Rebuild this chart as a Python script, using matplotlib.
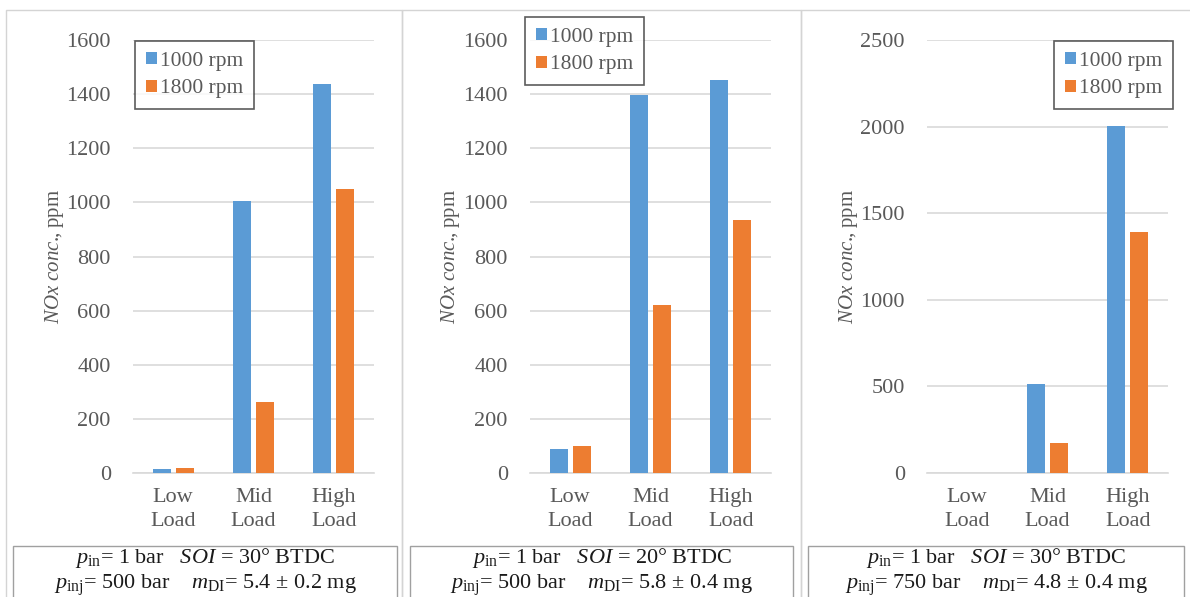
import matplotlib
matplotlib.use("Agg")
import numpy as np
import matplotlib.pyplot as plt
from matplotlib.patches import Rectangle

plt.rcParams['font.family'] = ['Liberation Serif', 'DejaVu Serif']
plt.rcParams['mathtext.fontset'] = 'custom'
plt.rcParams['mathtext.rm'] = 'Liberation Serif'
plt.rcParams['mathtext.it'] = 'Liberation Serif:italic'

categories = ['Low\nLoad', 'Mid\nLoad', 'High\nLoad']
series_names = ['1000 rpm', '1800 rpm']

nox_a_1000 = [15, 1005, 1437]
nox_a_1800 = [20, 262, 1050]
nox_b_1000 = [88, 1395, 1452]
nox_b_1800 = [100, 621, 934]
nox_c_1000 = [0, 513, 2005]
nox_c_1800 = [0, 172, 1390]

ylims = [1600, 1600, 2500]
ysteps = [200, 200, 500]
captions = [
    (r'$p_{\mathrm{in}}$= 1 bar   $SOI$ = 30° BTDC',
     r'$p_{\mathrm{inj}}$= 500 bar    $m_{\mathrm{DI}}$= 5.4 ± 0.2 mg'),
    (r'$p_{\mathrm{in}}$= 1 bar   $SOI$ = 20° BTDC',
     r'$p_{\mathrm{inj}}$= 500 bar    $m_{\mathrm{DI}}$= 5.8 ± 0.4 mg'),
    (r'$p_{\mathrm{in}}$= 1 bar   $SOI$ = 30° BTDC',
     r'$p_{\mathrm{inj}}$= 750 bar    $m_{\mathrm{DI}}$= 4.8 ± 0.4 mg'),
]

BLUE = '#5B9BD5'
ORANGE = '#ED7D31'
GRAY = '#595959'
GRID = '#D9D9D9'

W, H = 1190, 597
fig = plt.figure(figsize=(W / 100, H / 100), dpi=100)


def px(x0, y0, w, h):
    # pixel box (top-left origin) -> figure fraction
    return [x0 / W, 1 - (y0 + h) / H, w / W, h / H]


panel_x = [6, 402, 801]
panel_w = [396, 399, 400]
axes_x = [133, 530, 927]
ylabel_x = [54, 451, 849]
legend_pos = [(135, 41), (525, 17), (1054, 41)]
caption_box = [(13, 384), (410, 383), (808, 376)]
data = [(nox_a_1000, nox_a_1800), (nox_b_1000, nox_b_1800), (nox_c_1000, nox_c_1800)]

x = np.arange(len(categories))
bw = 0.225
off = 0.144

for i in range(3):
    # panel frame
    fig.patches.append(Rectangle((panel_x[i] / W, -0.01), panel_w[i] / W, 1 - 10 / H + 0.01,
                                 transform=fig.transFigure, fill=False,
                                 edgecolor='#D4D4D4', linewidth=1.0))
    ax = fig.add_axes(px(axes_x[i], 40, 241, 433))
    s1, s2 = data[i]
    b1 = ax.bar(x - off, s1, bw, color=BLUE, zorder=3)
    b2 = ax.bar(x + off, s2, bw, color=ORANGE, zorder=3)
    ax.set_xlim(-0.5, 2.5)
    ax.set_ylim(0, ylims[i])
    ax.set_yticks(np.arange(0, ylims[i] + 1, ysteps[i]))
    ax.set_xticks(x)
    ax.set_xticklabels(categories, linespacing=1.35)
    ax.yaxis.grid(True, color=GRID, linewidth=1.2, zorder=0)
    ax.set_axisbelow(True)
    for s in ['top', 'right', 'left']:
        ax.spines[s].set_visible(False)
    ax.spines['bottom'].set_color(GRID)
    ax.spines['bottom'].set_linewidth(1.2)
    ax.tick_params(length=0, labelsize=16, colors=GRAY, pad=11)
    ax.tick_params(axis='y', pad=16)
    fig.text(ylabel_x[i] / W, 1 - 256 / H, r'$NOx\ conc.\!\!$, ppm', rotation=90,
             ha='center', va='center', fontsize=15, color=GRAY)

    lx, ly = legend_pos[i]
    leg = ax.legend([b1, b2], series_names, loc='upper left',
                    bbox_to_anchor=(lx / W, 1 - ly / H), bbox_transform=fig.transFigure,
                    fontsize=15.5, frameon=True, fancybox=False, handlelength=0.5,
                    handleheight=0.5, handletextpad=0.15, borderpad=0.5,
                    labelspacing=0.4, borderaxespad=0)
    leg.get_frame().set_edgecolor('#333333')
    leg.get_frame().set_linewidth(1.2)
    for t in leg.get_texts():
        t.set_color(GRAY)

    # caption box
    cx, cw = caption_box[i]
    fig.patches.append(Rectangle((cx / W, -0.05), cw / W, 1 - 546 / H + 0.05,
                                 transform=fig.transFigure, fill=False,
                                 edgecolor='#A0A0A0', linewidth=1.0))
    fig.text((cx + cw / 2) / W, 1 - 558 / H, captions[i][0], ha='center', va='center',
             fontsize=16, color='#1a1a1a')
    fig.text((cx + cw / 2) / W, 1 - 585 / H, captions[i][1], ha='center', va='center',
             fontsize=16, color='#1a1a1a')

fig.savefig('out.png', dpi=100)
